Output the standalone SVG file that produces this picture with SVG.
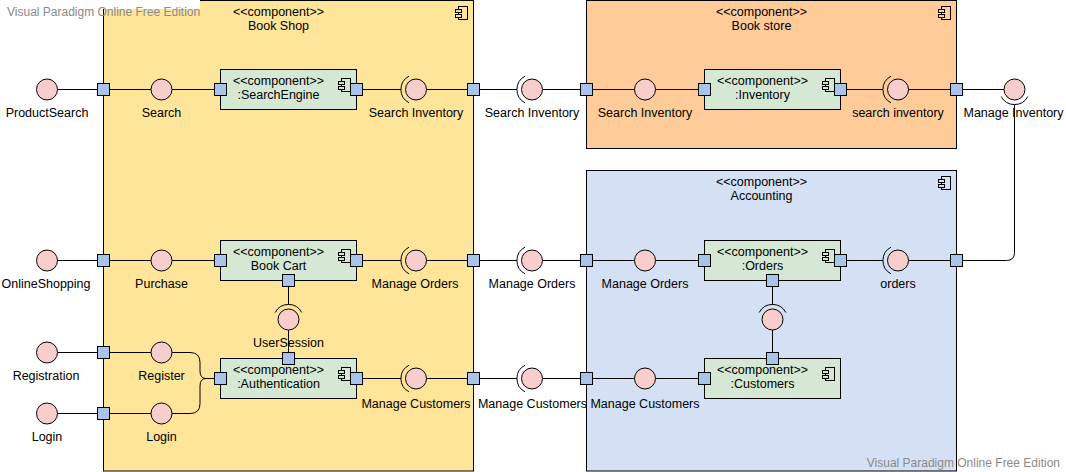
<svg xmlns="http://www.w3.org/2000/svg" xmlns:xlink="http://www.w3.org/1999/xlink" width="1066" height="472" viewBox="0 0 1066 472">
<style>
text{font-family:"Liberation Sans",Arial,sans-serif;font-size:12.5px;fill:#000;text-anchor:middle}
.wm{fill:#8a8a8a;font-size:12px;text-anchor:start}
.wme{fill:#8a8a8a;font-size:12px;text-anchor:end}
.shop{fill:#ffe599;stroke:#000;stroke-width:1}
.store{fill:#ffcc99;stroke:#000;stroke-width:1}
.acct{fill:#d4e1f5;stroke:#000;stroke-width:1}
.comp{fill:#d5e8d4;stroke:#000;stroke-width:1}
.port{fill:#a9c4eb;stroke:#000;stroke-width:1}
.ball{fill:#f8cecc;stroke:#000;stroke-width:1}
.sock{fill:none;stroke:#000;stroke-width:1}
.conn path{fill:none;stroke:#000;stroke-width:1}
.icon rect{stroke:#000;stroke-width:1}
</style>
<defs>
<g id="icon" class="icon">
<rect x="3" y="0" width="9" height="13"/>
<rect x="0" y="3" width="6" height="3"/>
<rect x="0" y="8" width="6" height="3"/>
</g>
<rect id="p" x="-6" y="-6" width="12" height="12" class="port"/>
<circle id="b" r="10.5" class="ball"/>
<path id="sl" d="M-7,-13.3 A15,15 0 0,0 -7,13.3" class="sock"/>
<path id="st" d="M-13.3,-7 A15,15 0 0,1 13.3,-7" class="sock"/>
<path id="sb" d="M-13.3,7 A15,15 0 0,0 13.3,7" class="sock"/>
</defs>

<rect width="1066" height="472" fill="#fff"/>

<g id="bookshop">
<rect class="shop" x="103.5" y="0.5" width="370" height="470.5"/>
<use xlink:href="#icon" fill="#ffe599" transform="translate(455.5,6.5)"/>
<text x="278.5" y="16">&lt;&lt;component&gt;&gt;</text>
<text x="278.5" y="30">Book Shop</text>
</g>
<g id="bookstore">
<rect class="store" x="586.5" y="0.5" width="370" height="148"/>
<use xlink:href="#icon" fill="#ffcc99" transform="translate(938.5,6.5)"/>
<text x="761.5" y="16">&lt;&lt;component&gt;&gt;</text>
<text x="761.5" y="30">Book store</text>
</g>
<g id="accounting">
<rect class="acct" x="586.5" y="170.5" width="370" height="300.5"/>
<use xlink:href="#icon" fill="#d4e1f5" transform="translate(938.5,176.5)"/>
<text x="761.5" y="186">&lt;&lt;component&gt;&gt;</text>
<text x="761.5" y="200">Accounting</text>
</g>

<rect x="103" y="0" width="97" height="9" fill="#fff"/>

<g id="connectors" class="conn">
<path d="M57.5,89.5H97.5M109.5,89.5H151M172,89.5H214.5M362.5,89.5H401M426.5,89.5H467.5M479.5,89.5H517M542.5,89.5H580.5M592.5,89.5H634.5M655.5,89.5H698.5M846.5,89.5H883M908.5,89.5H950.5M962.5,89.5H1004"/>
<path d="M57.5,260.5H97.5M109.5,260.5H151M172,260.5H214.5M362.5,260.5H401M426.5,260.5H467.5M479.5,260.5H517M542.5,260.5H580.5M592.5,260.5H634.5M655.5,260.5H698.5M846.5,260.5H883M908.5,260.5H950.5"/>
<path d="M1014.5,104.5V252.5Q1014.5,260.5 1006.5,260.5H962.5"/>
<path d="M57.5,352.5H97.5M109.5,352.5H151M57.5,413.5H97.5M109.5,413.5H151"/>
<path d="M172,352.5H190Q200,352.5 200,362.5V371Q200,378.5 206,378.5H214.5"/>
<path d="M172,413.5H190Q200,413.5 200,403.5V386Q200,378.5 206,378.5"/>
<path d="M362.5,378.5H401M426.5,378.5H467.5M479.5,378.5H517M542.5,378.5H580.5M592.5,378.5H634.5M655.5,378.5H698.5"/>
<path d="M288.5,286.5V304.5M288.5,330V352.5M772.5,286.5V304.5M772.5,330V352.5"/>
</g>

<g id="searchengine">
<rect class="comp" x="220.5" y="69.5" width="136" height="40"/>
<use xlink:href="#icon" fill="#d5e8d4" transform="translate(338.5,78.5)"/>
<text x="278.5" y="84.5">&lt;&lt;component&gt;&gt;</text>
<text x="278.5" y="98.5">:SearchEngine</text>
<use xlink:href="#p" x="220.5" y="89.5"/>
<use xlink:href="#p" x="356.5" y="89.5"/>
</g>
<g id="bookcart">
<rect class="comp" x="220.5" y="240.5" width="136" height="40"/>
<use xlink:href="#icon" fill="#d5e8d4" transform="translate(338.5,249.5)"/>
<text x="278.5" y="255.5">&lt;&lt;component&gt;&gt;</text>
<text x="278.5" y="269.5">Book Cart</text>
<use xlink:href="#p" x="220.5" y="260.5"/>
<use xlink:href="#p" x="356.5" y="260.5"/>
<use xlink:href="#p" x="288.5" y="280.5"/>
</g>
<g id="authentication">
<rect class="comp" x="220.5" y="358.5" width="136" height="40"/>
<use xlink:href="#icon" fill="#d5e8d4" transform="translate(338.5,367.5)"/>
<text x="278.5" y="373.5">&lt;&lt;component&gt;&gt;</text>
<text x="278.5" y="387.5">:Authentication</text>
<use xlink:href="#p" x="220.5" y="378.5"/>
<use xlink:href="#p" x="356.5" y="378.5"/>
<use xlink:href="#p" x="288.5" y="358.5"/>
</g>
<g id="inventory">
<rect class="comp" x="704.5" y="69.5" width="136" height="40"/>
<use xlink:href="#icon" fill="#d5e8d4" transform="translate(822.5,78.5)"/>
<text x="762.5" y="84.5">&lt;&lt;component&gt;&gt;</text>
<text x="762.5" y="98.5">:Inventory</text>
<use xlink:href="#p" x="704.5" y="89.5"/>
<use xlink:href="#p" x="840.5" y="89.5"/>
</g>
<g id="orders">
<rect class="comp" x="704.5" y="240.5" width="136" height="40"/>
<use xlink:href="#icon" fill="#d5e8d4" transform="translate(822.5,249.5)"/>
<text x="762.5" y="255.5">&lt;&lt;component&gt;&gt;</text>
<text x="762.5" y="269.5">:Orders</text>
<use xlink:href="#p" x="704.5" y="260.5"/>
<use xlink:href="#p" x="840.5" y="260.5"/>
<use xlink:href="#p" x="772.5" y="280.5"/>
</g>
<g id="customers">
<rect class="comp" x="704.5" y="358.5" width="136" height="40"/>
<use xlink:href="#icon" fill="#d5e8d4" transform="translate(822.5,367.5)"/>
<text x="762.5" y="373.5">&lt;&lt;component&gt;&gt;</text>
<text x="762.5" y="387.5">:Customers</text>
<use xlink:href="#p" x="704.5" y="378.5"/>
<use xlink:href="#p" x="772.5" y="358.5"/>
</g>

<g id="boundary-ports">
<use xlink:href="#p" x="103.5" y="89.5"/>
<use xlink:href="#p" x="473.5" y="89.5"/>
<use xlink:href="#p" x="586.5" y="89.5"/>
<use xlink:href="#p" x="956.5" y="89.5"/>
<use xlink:href="#p" x="103.5" y="260.5"/>
<use xlink:href="#p" x="473.5" y="260.5"/>
<use xlink:href="#p" x="586.5" y="260.5"/>
<use xlink:href="#p" x="956.5" y="260.5"/>
<use xlink:href="#p" x="103.5" y="352.5"/>
<use xlink:href="#p" x="103.5" y="413.5"/>
<use xlink:href="#p" x="473.5" y="378.5"/>
<use xlink:href="#p" x="586.5" y="378.5"/>
</g>

<g id="if-productsearch"><use xlink:href="#b" x="47" y="89.5"/><text x="47" y="116.5">ProductSearch</text></g>
<g id="if-search"><use xlink:href="#b" x="161.5" y="89.5"/><text x="161.5" y="116.5">Search</text></g>
<g id="if-searchinv1"><use xlink:href="#b" x="416" y="89.5"/><use xlink:href="#sl" x="416" y="89.5"/><text x="416" y="116.5">Search Inventory</text></g>
<g id="if-searchinv2"><use xlink:href="#b" x="532" y="89.5"/><use xlink:href="#sl" x="532" y="89.5"/><text x="532" y="116.5">Search Inventory</text></g>
<g id="if-searchinv3"><use xlink:href="#b" x="645" y="89.5"/><text x="645" y="116.5">Search Inventory</text></g>
<g id="if-searchinv4"><use xlink:href="#b" x="898" y="89.5"/><use xlink:href="#sl" x="898" y="89.5"/><text x="898" y="116.5">search inventory</text></g>
<g id="if-manageinv"><use xlink:href="#b" x="1014.5" y="89.5"/><use xlink:href="#sb" x="1014.5" y="89.5"/><text x="1013.5" y="116.5">Manage Inventory</text></g>

<g id="if-onlineshopping"><use xlink:href="#b" x="47" y="260.5"/><text x="46" y="287.5">OnlineShopping</text></g>
<g id="if-purchase"><use xlink:href="#b" x="161.5" y="260.5"/><text x="161.5" y="287.5">Purchase</text></g>
<g id="if-orders1"><use xlink:href="#b" x="416" y="260.5"/><use xlink:href="#sl" x="416" y="260.5"/><text x="415" y="287.5">Manage Orders</text></g>
<g id="if-orders2"><use xlink:href="#b" x="532" y="260.5"/><use xlink:href="#sl" x="532" y="260.5"/><text x="532" y="287.5">Manage Orders</text></g>
<g id="if-orders3"><use xlink:href="#b" x="645" y="260.5"/><text x="645" y="287.5">Manage Orders</text></g>
<g id="if-orders4"><use xlink:href="#b" x="898" y="260.5"/><use xlink:href="#sl" x="898" y="260.5"/><text x="898" y="287.5">orders</text></g>

<g id="if-usersession"><use xlink:href="#b" x="288.5" y="319.5"/><use xlink:href="#st" x="288.5" y="319.5"/><text x="288.5" y="346.5">UserSession</text></g>
<g id="if-ordcust"><use xlink:href="#b" x="772.5" y="319.5"/><use xlink:href="#st" x="772.5" y="319.5"/></g>

<g id="if-registration"><use xlink:href="#b" x="47" y="352.5"/><text x="46" y="379.5">Registration</text></g>
<g id="if-register"><use xlink:href="#b" x="161.5" y="352.5"/><text x="161.5" y="379.5">Register</text></g>
<g id="if-login1"><use xlink:href="#b" x="47" y="413.5"/><text x="47" y="440.5">Login</text></g>
<g id="if-login2"><use xlink:href="#b" x="161.5" y="413.5"/><text x="161.5" y="440.5">Login</text></g>

<g id="if-cust1"><use xlink:href="#b" x="416" y="378.5"/><use xlink:href="#sl" x="416" y="378.5"/><text x="416" y="407.5">Manage Customers</text></g>
<g id="if-cust2"><use xlink:href="#b" x="532" y="378.5"/><use xlink:href="#sl" x="532" y="378.5"/><text x="532.5" y="407.5">Manage Customers</text></g>
<g id="if-cust3"><use xlink:href="#b" x="645" y="378.5"/><text x="645" y="407.5">Manage Customers</text></g>

<text class="wm" x="7" y="16">Visual Paradigm Online Free Edition</text>
<text class="wme" x="1060" y="467">Visual Paradigm Online Free Edition</text>
</svg>
